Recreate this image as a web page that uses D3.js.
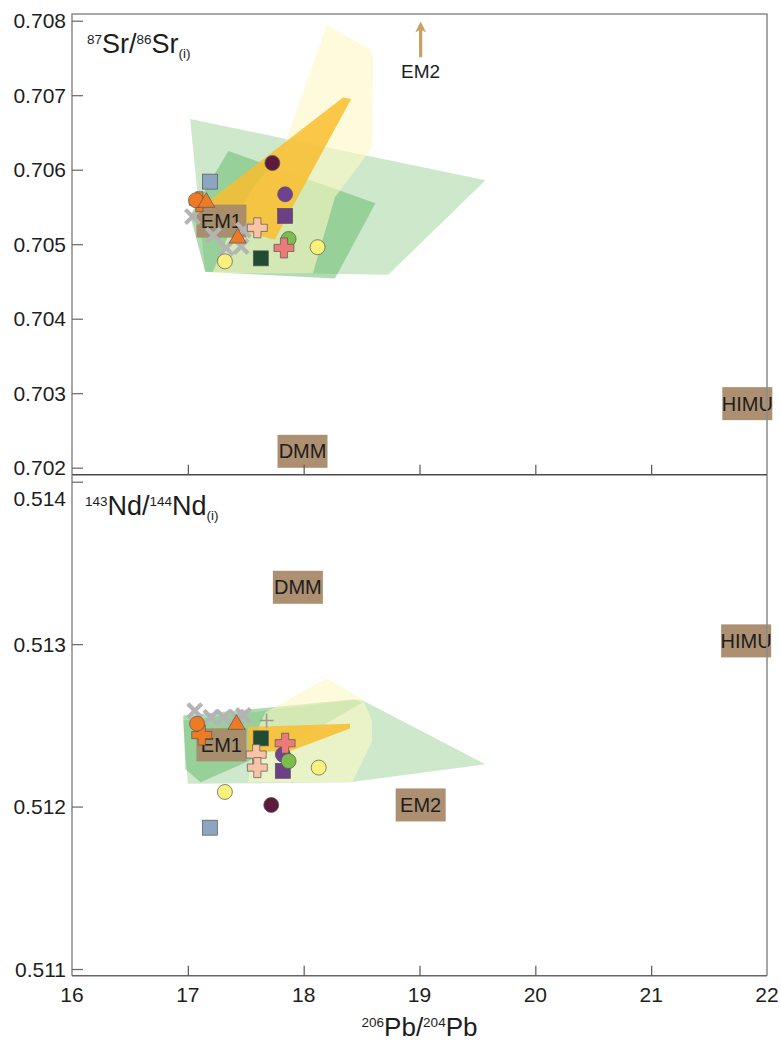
<!DOCTYPE html>
<html>
<head>
<meta charset="utf-8">
<script src="https://cdn.jsdelivr.net/npm/d3@7"></script>
<style>
  html, body { margin: 0; padding: 0; background: #fff; }
  svg { display: block; font-family: "Liberation Sans", Arial, sans-serif; }
</style>
</head>
<body>
<svg id="chart" width="781" height="1041"></svg>
<script>
// ---------------- DATA ----------------
const pbTicks = [16, 17, 18, 19, 20, 21, 22];
const srTicks = [0.702, 0.703, 0.704, 0.705, 0.706, 0.707, 0.708];
const ndTicks = [0.511, 0.512, 0.513, 0.514];

// Fields (polygons) in 206Pb/204Pb vs 87Sr/86Sr
const fieldLightGreenSr = [[17.02, 0.70668], [19.57, 0.70586], [18.73, 0.70459], [17.15, 0.70463]];
const fieldGreenSr = [[17.35, 0.70625], [18.62, 0.70555], [18.27, 0.70454], [17.15, 0.70463], [17.02, 0.70539]];
const fieldPaleYellowSr = [[18.20, 0.70794], [18.56, 0.70763], [18.60, 0.70750], [18.59, 0.70629], [18.27, 0.70563],
                           [18.08, 0.70461], [17.21, 0.70461], [17.35, 0.70512], [17.55, 0.70573], [17.81, 0.70624]];
const fieldOrangeSr = [[18.34, 0.70697], [18.41, 0.70695], [17.75, 0.70506], [17.52, 0.70516], [17.15, 0.70554]];

// Fields in 206Pb/204Pb vs 143Nd/144Nd
const fieldLightGreenNd = [[16.96, 0.51253], [18.49, 0.51266], [19.57, 0.51226], [18.40, 0.51215], [17.00, 0.51214]];
const fieldGreenNd = [[16.96, 0.51256], [18.44, 0.51266], [18.51, 0.51264], [17.97, 0.51242], [17.11, 0.51215], [16.98, 0.51223]];
const fieldPaleYellowNd = [[18.20, 0.51279], [18.51, 0.51266], [18.59, 0.51253], [18.59, 0.51240], [18.42, 0.51215],
                           [17.52, 0.51215], [17.58, 0.51244], [17.67, 0.51258]];
const fieldOrangeNd = [[17.52, 0.51249], [18.40, 0.51251], [18.40, 0.51248], [17.88, 0.51234], [17.52, 0.51234]];

// Sample series: [206Pb/204Pb, 87Sr/86Sr] and [206Pb/204Pb, 143Nd/144Nd]
const grayCrossSr = [[17.04, 0.70537], [17.22, 0.70512], [17.33, 0.70495], [17.46, 0.70497], [17.48, 0.70519]];
const grayCrossNd = [[17.06, 0.51259], [17.20, 0.51255], [17.31, 0.51255], [17.42, 0.51255], [17.48, 0.51256]];
const grayPlusSr = [];
const grayPlusNd = [[17.68, 0.51253]];
const orangePlusSr = [[17.10, 0.70557]];
const orangePlusNd = [[17.12, 0.51244]];
const orangeCircleSr = [[17.07, 0.70559]];
const orangeCircleNd = [[17.08, 0.51251]];
const orangeTriangleSr = [[17.16, 0.70557], [17.43, 0.70509]];
const orangeTriangleNd = [[17.42, 0.51251]];
const blueSquareSr = [[17.19, 0.70584]];
const blueSquareNd = [[17.19, 0.51187]];
const yellowCircleSr = [[17.32, 0.70477], [18.12, 0.70496]];
const yellowCircleNd = [[17.32, 0.51209], [18.13, 0.51224]];
const darkGreenSquareSr = [[17.63, 0.70481]];
const darkGreenSquareNd = [[17.63, 0.51242]];
const peachPlusSr = [[17.60, 0.70522]];
const peachPlusNd = [[17.59, 0.51232], [17.60, 0.51224]];
const maroonCircleSr = [[17.73, 0.70609]];
const maroonCircleNd = [[17.72, 0.51201]];
const purpleCircleSr = [[17.84, 0.70567]];
const purpleCircleNd = [[17.82, 0.51232]];
const purpleSquareSr = [[17.84, 0.70538]];
const purpleSquareNd = [[17.82, 0.51222]];
const greenCircleSr = [[17.87, 0.70507]];
const greenCircleNd = [[17.87, 0.51228]];
const salmonPlusSr = [[17.83, 0.70495]];
const salmonPlusNd = [[17.84, 0.51239]];

// Mantle reservoirs
const reservoirNames = ["EM1", "DMM", "HIMU", "EM2"];
const reservoirSr = [[17.29, 0.70531], [17.99, 0.70222], [21.83, 0.70286], null];
const reservoirNd = [[17.29, 0.51238], [17.95, 0.51335], [21.82, 0.51302], [19.01, 0.51201]];
const em2ArrowSr = [[19.01, 0.70751], [19.01, 0.70799]];

// ---------------- LAYOUT ----------------
const svg = d3.select("#chart");
const left = 72, right = 767;
const topY0 = 14, sepY = 474.7, botY1 = 975.7;

const x = d3.scaleLinear().domain([16, 22]).range([left, right]);
const ySr = d3.scaleLinear().domain([0.702, 0.708]).range([467.7, 20.7]);
const yNd = d3.scaleLinear().domain([0.511, 0.514]).range([969, 481.7]);

const fields = [
  { sr: fieldLightGreenSr, nd: fieldLightGreenNd, fill: "#9ed29a", op: 0.5 },
  { sr: fieldGreenSr, nd: fieldGreenNd, fill: "#5fb866", op: 0.5 },
  { sr: fieldPaleYellowSr, nd: fieldPaleYellowNd, fill: "#fdf8c4", op: 0.6 },
  { sr: fieldOrangeSr, nd: fieldOrangeNd, fill: "#f9bd2e", op: 0.85 }
];

const series = [
  { sr: grayCrossSr, nd: grayCrossNd, shape: "x", fill: "#b4b4b4" },
  { sr: grayPlusSr, nd: grayPlusNd, shape: "thinplus", fill: "#9a9a9a" },
  { sr: orangePlusSr, nd: orangePlusNd, shape: "plus", fill: "#ef7a24" },
  { sr: orangeCircleSr, nd: orangeCircleNd, shape: "circle", fill: "#ef7a24" },
  { sr: orangeTriangleSr, nd: orangeTriangleNd, shape: "triangle", fill: "#ef7a24" },
  { sr: blueSquareSr, nd: blueSquareNd, shape: "square", fill: "#8ca5c0" },
  { sr: yellowCircleSr, nd: yellowCircleNd, shape: "circle", fill: "#faf07c" },
  { sr: darkGreenSquareSr, nd: darkGreenSquareNd, shape: "square", fill: "#1f4c33" },
  { sr: peachPlusSr, nd: peachPlusNd, shape: "plus", fill: "#f8c3a6" },
  { sr: maroonCircleSr, nd: maroonCircleNd, shape: "circle", fill: "#5c1a3d" },
  { sr: purpleCircleSr, nd: purpleCircleNd, shape: "circle", fill: "#6f4291" },
  { sr: purpleSquareSr, nd: purpleSquareNd, shape: "square", fill: "#6c3f86" },
  { sr: greenCircleSr, nd: greenCircleNd, shape: "circle", fill: "#7dbd4c" },
  { sr: salmonPlusSr, nd: salmonPlusNd, shape: "plus", fill: "#ec7a7a" }
];

// ---------------- DRAW ----------------
function drawFields(key, y) {
  const g = svg.append("g");
  fields.forEach(f => {
    g.append("path")
      .attr("d", d3.line().x(d => x(d[0])).y(d => y(d[1]))(f[key]) + "Z")
      .attr("fill", f.fill).attr("fill-opacity", f.op).attr("stroke", "none");
  });
}

function marker(g, shape, px, py, fill) {
  const st = "#555";
  if (shape === "circle") {
    g.append("circle").attr("cx", px).attr("cy", py).attr("r", 7.5)
      .attr("fill", fill).attr("stroke", st).attr("stroke-width", 0.7);
  } else if (shape === "square") {
    g.append("rect").attr("x", px - 7.5).attr("y", py - 7.5).attr("width", 15).attr("height", 15)
      .attr("fill", fill).attr("stroke", st).attr("stroke-width", 0.7);
  } else if (shape === "triangle") {
    const s = 17, h = s * 0.866;
    g.append("path").attr("d", `M${px},${py - h * 0.62}L${px + s / 2},${py + h * 0.38}L${px - s / 2},${py + h * 0.38}Z`)
      .attr("fill", fill).attr("stroke", st).attr("stroke-width", 0.7);
  } else if (shape === "plus") {
    const a = 10, w = 3.6;
    g.append("path").attr("d",
      `M${px - w},${py - a}H${px + w}V${py - w}H${px + a}V${py + w}H${px + w}V${py + a}H${px - w}V${py + w}H${px - a}V${py - w}H${px - w}Z`)
      .attr("fill", fill).attr("stroke", st).attr("stroke-width", 0.7);
  } else if (shape === "x") {
    const a = 7;
    g.append("path").attr("d", `M${px - a},${py - a}L${px + a},${py + a}M${px + a},${py - a}L${px - a},${py + a}`)
      .attr("stroke", fill).attr("stroke-width", 4.2).attr("fill", "none");
  } else if (shape === "thinplus") {
    const a = 7;
    g.append("path").attr("d", `M${px - a},${py}H${px + a}M${px},${py - a}V${py + a}`)
      .attr("stroke", fill).attr("stroke-width", 1.6).attr("fill", "none");
  }
}

function drawReservoirs(key, y) {
  const g = svg.append("g");
  const pos = key === "sr" ? reservoirSr : reservoirNd;
  reservoirNames.forEach((name, i) => {
    const p = pos[i];
    if (!p) return;
    const cx = x(p[0]), cy = y(p[1]);
    g.append("rect").attr("x", cx - 25).attr("y", cy - 16.5).attr("width", 50).attr("height", 33)
      .attr("fill", "#a88a69").attr("fill-opacity", 0.95);
    g.append("text").attr("x", cx).attr("y", cy + 7).attr("text-anchor", "middle")
      .attr("font-size", 20).attr("fill", "#1d1d1d").text(name);
  });
}

function drawSeries(key, y) {
  const g = svg.append("g");
  series.forEach(s => s[key].forEach(d => marker(g, s.shape, x(d[0]), y(d[1]), s.fill)));
}

// top panel
drawFields("sr", ySr);
drawReservoirs("sr", ySr);
drawSeries("sr", ySr);
// bottom panel
drawFields("nd", yNd);
drawReservoirs("nd", yNd);
drawSeries("nd", yNd);

// EM2 arrow (top panel)
const ax = x(em2ArrowSr[0][0]), ay0 = ySr(em2ArrowSr[0][1]), ay1 = ySr(em2ArrowSr[1][1]);
svg.append("line").attr("x1", ax).attr("x2", ax).attr("y1", ay0).attr("y2", ay1 + 8)
  .attr("stroke", "#c9a062").attr("stroke-width", 3.2);
svg.append("path").attr("d", `M${ax},${ay1}L${ax + 5.5},${ay1 + 11}L${ax},${ay1 + 8}L${ax - 5.5},${ay1 + 11}Z`)
  .attr("fill", "#c9a062");
svg.append("text").attr("x", ax).attr("y", ay0 + 21).attr("text-anchor", "middle")
  .attr("font-size", 19).attr("fill", "#1d1d1d").text("EM2");

// ---- Frames and axes ----
const frame = svg.append("g");
frame.append("path").attr("d", `M${left},${sepY}V${topY0}H${right}V${botY1}`)
  .attr("fill", "none").attr("stroke", "#8a8a8a").attr("stroke-width", 1.5);
frame.append("line").attr("x1", left).attr("x2", right).attr("y1", sepY).attr("y2", sepY)
  .attr("stroke", "#4a4a4a").attr("stroke-width", 1.5);
frame.append("line").attr("x1", left).attr("x2", left).attr("y1", sepY).attr("y2", botY1)
  .attr("stroke", "#8a8a8a").attr("stroke-width", 1.5);
frame.append("line").attr("x1", left).attr("x2", right).attr("y1", botY1).attr("y2", botY1)
  .attr("stroke", "#666").attr("stroke-width", 1.5);

// Y axes (ticks inward)
function yAxis(scale, ticks, fmt, topShift) {
  const g = svg.append("g").attr("transform", `translate(${left},0)`)
    .call(d3.axisRight(scale).tickValues(ticks).tickSize(11).tickFormat(""));
  g.select(".domain").remove();
  g.selectAll(".tick line").attr("stroke", "#666").attr("stroke-width", 1.2);
  const lab = svg.append("g");
  const tmax = d3.max(ticks);
  ticks.forEach(t => {
    const shift = t === tmax ? topShift : 0;
    lab.append("text").attr("x", left - 6).attr("y", scale(t) + 7.5 + shift).attr("text-anchor", "end")
      .attr("font-size", 21).attr("fill", "#1d1d1d").text(fmt(t));
  });
}
yAxis(ySr, srTicks, d3.format(".3f"), 0);
yAxis(yNd, ndTicks, d3.format(".3f"), 17);

// X axes (ticks inward), top panel bottom edge and bottom panel bottom edge
const innerPb = pbTicks.filter(t => t > 16 && t < 22);
[sepY, botY1].forEach(yy => {
  const g = svg.append("g").attr("transform", `translate(0,${yy})`)
    .call(d3.axisTop(x).tickValues(innerPb).tickSize(10).tickFormat(""));
  g.select(".domain").remove();
  g.selectAll(".tick line").attr("stroke", "#555").attr("stroke-width", 1.2);
});
const xl = svg.append("g");
pbTicks.forEach(t => {
  xl.append("text").attr("x", x(t)).attr("y", 1002).attr("text-anchor", "middle")
    .attr("font-size", 21).attr("fill", "#1d1d1d").text(t);
});

// Titles
function isoLabel(xp, yp, parts, anchor) {
  const t = svg.append("text").attr("x", xp).attr("y", yp).attr("fill", "#1d1d1d")
    .attr("text-anchor", anchor || "start");
  parts.forEach(p => {
    const ts = t.append("tspan").text(p.t);
    if (p.k === "sup") ts.attr("font-size", 13.5).attr("baseline-shift", "9");
    else if (p.k === "sub") ts.attr("font-size", 13.5).attr("baseline-shift", "-5");
    else ts.attr("font-size", p.s || 27);
  });
  return t;
}
isoLabel(87, 53, [{ t: "87", k: "sup" }, { t: "Sr/" }, { t: "86", k: "sup" }, { t: "Sr" }, { t: "(i)", k: "sub" }]);
isoLabel(85, 515, [{ t: "143", k: "sup" }, { t: "Nd/" }, { t: "144", k: "sup" }, { t: "Nd" }, { t: "(i)", k: "sub" }]);
isoLabel(x(19), 1036, [{ t: "206", k: "sup" }, { t: "Pb/", s: 26 }, { t: "204", k: "sup" }, { t: "Pb", s: 26 }], "middle");
</script>
</body>
</html>
